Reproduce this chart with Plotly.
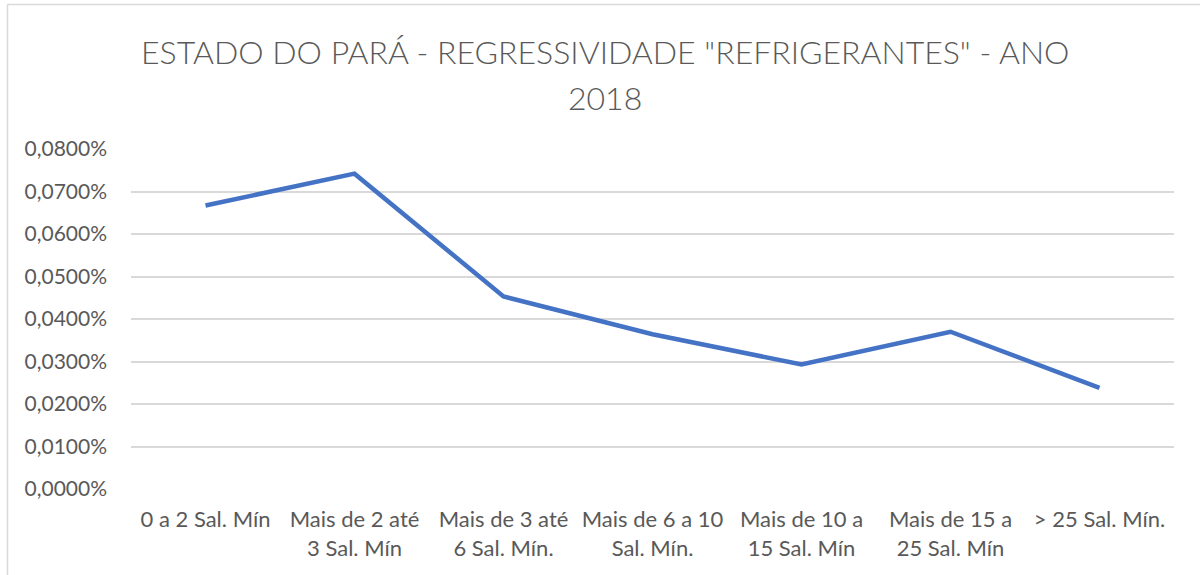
import plotly.graph_objects as go

categories = [
    "0 a 2 Sal. Mín",
    "Mais de 2 até<br>3 Sal. Mín",
    "Mais de 3 até<br>6 Sal. Mín.",
    "Mais de 6 a 10<br>Sal. Mín.",
    "Mais de 10 a<br>15 Sal. Mín",
    "Mais de 15 a<br>25 Sal. Mín",
    "> 25 Sal. Mín.",
]
values = [0.0667, 0.0742, 0.0453, 0.0364, 0.0293, 0.0370, 0.0238]
y_ticks = [0.00, 0.01, 0.02, 0.03, 0.04, 0.05, 0.06, 0.07, 0.08]
y_ticktext = [f"{v:.4f}".replace(".", ",") + "%" for v in y_ticks]
title_lines = ['ESTADO DO PARÁ - REGRESSIVIDADE "REFRIGERANTES" - ANO', "2018"]

W, H = 1200, 575
L, R, T, B = 131, 26, 149, 86
pw, ph = W - L - R, H - T - B

def px_to_paper_x(px):
    return (px - L) / pw

def px_to_paper_y(py):
    return (H - B - py) / ph

fig = go.Figure()
fig.add_trace(go.Scatter(
    x=categories, y=values, mode="lines",
    line=dict(color="#4472C4", width=4.5),
    hoverinfo="x+y", showlegend=False,
))

title_font = dict(family="Lato, Carlito, sans-serif", size=32, color="#595959", weight=300)
annotations = [
    dict(text=title_lines[0], x=px_to_paper_x(605), y=px_to_paper_y(52),
         xref="paper", yref="paper", xanchor="center", yanchor="middle",
         showarrow=False, font=title_font),
    dict(text=title_lines[1], x=px_to_paper_x(605), y=px_to_paper_y(97),
         xref="paper", yref="paper", xanchor="center", yanchor="middle",
         showarrow=False, font=title_font),
]

border = dict(color="#d9d9d9", width=1.5)
shapes = [
    dict(type="line", xref="paper", yref="paper",
         x0=px_to_paper_x(7.5), x1=px_to_paper_x(1200),
         y0=px_to_paper_y(4.5), y1=px_to_paper_y(4.5), line=border),
    dict(type="line", xref="paper", yref="paper",
         x0=px_to_paper_x(7.5), x1=px_to_paper_x(7.5),
         y0=px_to_paper_y(4.5), y1=px_to_paper_y(575), line=border),
]

fig.update_layout(
    width=W, height=H,
    margin=dict(l=L, r=R, t=T, b=B, autoexpand=False),
    paper_bgcolor="white", plot_bgcolor="white",
    font=dict(family="Lato, Carlito, Calibri, sans-serif", color="#595959", size=22),
    annotations=annotations,
    shapes=shapes,
    xaxis=dict(
        type="category", range=[-0.5, len(categories) - 0.5],
        showgrid=False, zeroline=False, showline=False, ticks="",
        ticklabelstandoff=15,
        tickfont=dict(size=22, color="#595959"),
    ),
    yaxis=dict(
        range=[0, 0.08], tickvals=y_ticks, ticktext=y_ticktext,
        showgrid=True, gridcolor="#d9d9d9", gridwidth=1.5,
        zeroline=False, showline=False, ticks="",
        ticklabelstandoff=23,
        tickfont=dict(size=21, color="#595959"),
    ),
)

fig.write_html("out.html", config={"displayModeBar": False},
               post_script="document.body.style.margin='0';")
